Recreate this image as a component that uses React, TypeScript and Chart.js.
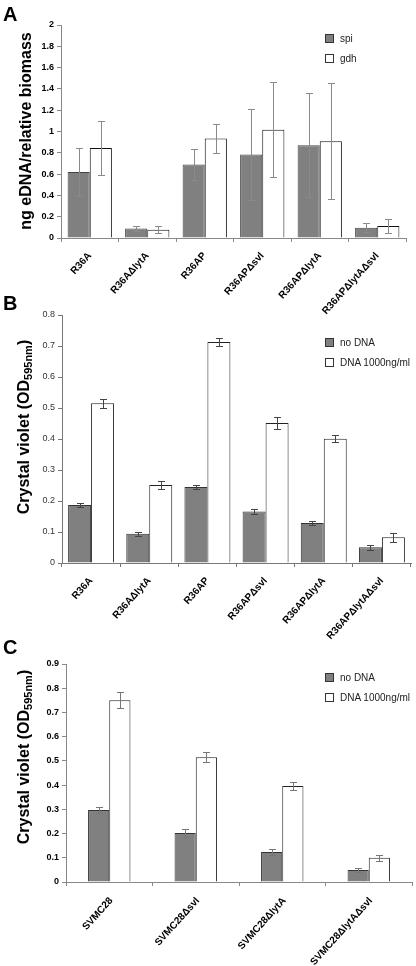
import React, { useEffect, useRef } from "react";
import { Chart, registerables } from "chart.js";
Chart.register(...registerables);

const FONT = "'Liberation Sans', Arial, Helvetica, sans-serif";

// Panel A data
const categoriesA = ["R36A", "R36AΔlytA", "R36AP", "R36APΔsvl", "R36APΔlytA", "R36APΔlytAΔsvl"];
const spiValues = [0.62, 0.09, 0.69, 0.785, 0.872, 0.097];
const spiErrors = [0.225, 0.02, 0.145, 0.43, 0.485, 0.044];
const gdhValues = [0.844, 0.078, 0.934, 1.016, 0.909, 0.1125];
const gdhErrors = [0.255, 0.032, 0.14, 0.445, 0.545, 0.07];

// Panel B data
const categoriesB = ["R36A", "R36AΔlytA", "R36AP", "R36APΔsvl", "R36APΔlytA", "R36APΔlytAΔsvl"];
const noDnaB = [0.187, 0.094, 0.2455, 0.166, 0.129, 0.0506];
const noDnaErrB = [0.0065, 0.006, 0.0065, 0.008, 0.0065, 0.0075];
const dnaB = [0.515, 0.252, 0.713, 0.452, 0.4006, 0.083];
const dnaErrB = [0.015, 0.013, 0.0135, 0.02, 0.011, 0.015];

// Panel C data
const categoriesC = ["SVMC28", "SVMC28Δsvl", "SVMC28ΔlytA", "SVMC28ΔlytAΔsvl"];
const noDnaC = [0.297, 0.202, 0.124, 0.0495];
const noDnaErrC = [0.012, 0.017, 0.0135, 0.01];
const dnaC = [0.75, 0.515, 0.396, 0.1];
const dnaErrC = [0.033, 0.021, 0.017, 0.012];

const GREY_FILL = "#808080";

const errorBarPlugin = {
  id: "errorBars",
  afterDatasetsDraw(chart: any) {
    const ctx = chart.ctx;
    const y = chart.scales.y;
    chart.data.datasets.forEach((ds: any, i: number) => {
      const meta = chart.getDatasetMeta(i);
      meta.data.forEach((bar: any, j: number) => {
        const v = ds.data[j];
        const e = ds.errors[j];
        const top = Math.round(y.getPixelForValue(v + e)) + 0.5;
        const bot = Math.round(y.getPixelForValue(v - e)) + 0.5;
        const x = Math.round(bar.x) + 0.5;
        const cap = 3.5;
        ctx.save();
        ctx.strokeStyle = ds.errorColor;
        ctx.lineWidth = 1;
        ctx.beginPath();
        ctx.moveTo(x, top);
        ctx.lineTo(x, bot);
        ctx.moveTo(x - cap, top);
        ctx.lineTo(x + cap, top);
        ctx.moveTo(x - cap, bot);
        ctx.lineTo(x + cap, bot);
        ctx.stroke();
        ctx.restore();
      });
    });
  },
};

type Geo = {
  canvasTop: number;
  canvasH: number;
  plotTop: number;
  plotBottom: number;
  plotLeft: number;
  plotRight: number;
};

type PanelProps = {
  geo: Geo;
  labels: string[];
  series: { label: string; data: number[]; errors: number[]; fill: string; border: string }[];
  yMax: number;
  yStep: number;
  yTickFont: any;
  yTickColor: string;
  xTickFont: any;
  xPad: number;
  xLabelOffset: number;
  errorColor: string;
  catPct: number;
  axisColor: string;
};

function BarPanel(p: PanelProps) {
  const ref = useRef<HTMLCanvasElement>(null);
  useEffect(() => {
    const g = p.geo;
    const chart = new Chart(ref.current as HTMLCanvasElement, {
      type: "bar",
      data: {
        labels: p.labels,
        datasets: p.series.map((s) => ({
          label: s.label,
          data: s.data,
          errors: s.errors,
          errorColor: p.errorColor,
          backgroundColor: s.fill,
          borderColor: s.border,
          borderWidth: 1,
          categoryPercentage: p.catPct,
          barPercentage: 1,
        })) as any,
      },
      options: {
        responsive: false,
        animation: false,
        devicePixelRatio: 1,
        layout: { padding: { top: g.plotTop - g.canvasTop, right: 416 - g.plotRight, left: 0, bottom: 0 } },
        plugins: { legend: { display: false }, tooltip: { enabled: false }, title: { display: false } },
        scales: {
          x: {
            grid: { offset: true, drawOnChartArea: false, drawTicks: true, tickLength: 4, color: p.axisColor },
            border: { color: p.axisColor, width: 1 },
            ticks: {
              autoSkip: false,
              minRotation: 48,
              maxRotation: 48,
              font: p.xTickFont,
              color: "#000",
              padding: p.xPad,
              labelOffset: p.xLabelOffset,
            },
            afterFit: (s: any) => {
              s.height = g.canvasTop + g.canvasH - g.plotBottom;
            },
          },
          y: {
            min: 0,
            max: p.yMax,
            ticks: {
              stepSize: p.yStep,
              font: p.yTickFont,
              color: p.yTickColor,
              padding: 3,
              callback: (v: any) => String(Number(Number(v).toFixed(1))),
            },
            grid: { drawOnChartArea: false, drawTicks: true, tickLength: 4, color: p.axisColor },
            border: { color: p.axisColor, width: 1 },
            afterFit: (s: any) => {
              s.width = g.plotLeft;
            },
          },
        },
      },
      plugins: [errorBarPlugin],
    });
    return () => chart.destroy();
  }, []);
  return (
    <canvas
      ref={ref}
      width={416}
      height={p.geo.canvasH}
      style={{ position: "absolute", left: 0, top: p.geo.canvasTop, width: 416, height: p.geo.canvasH }}
    />
  );
}

function Legend({ top, items }: { top: number; items: { label: string; fill: string }[] }) {
  return (
    <>
      {items.map((it, i) => (
        <div
          key={i}
          style={{
            position: "absolute",
            left: 325,
            top: top + i * 20 - 6,
            height: 12,
            display: "flex",
            alignItems: "center",
            fontFamily: FONT,
            fontSize: 10,
            color: "#222",
            whiteSpace: "nowrap",
          }}
        >
          <span
            style={{
              display: "inline-block",
              width: 7,
              height: 7,
              background: it.fill,
              border: "1px solid #333",
              marginRight: 6,
            }}
          />
          {it.label}
        </div>
      ))}
    </>
  );
}

function YTitle({ cx, cy, children }: { cx: number; cy: number; children: any }) {
  return (
    <div
      style={{
        position: "absolute",
        left: cx,
        top: cy,
        transform: "translate(-50%, -50%) rotate(-90deg)",
        fontFamily: FONT,
        fontWeight: "bold",
        fontSize: 16,
        color: "#000",
        whiteSpace: "nowrap",
        lineHeight: "18px",
      }}
    >
      {children}
    </div>
  );
}

function Letter({ top, text }: { top: number; text: string }) {
  return (
    <div
      style={{
        position: "absolute",
        left: 3,
        top,
        fontFamily: FONT,
        fontWeight: "bold",
        fontSize: 20,
        lineHeight: "20px",
        color: "#000",
      }}
    >
      {text}
    </div>
  );
}

export default function App() {
  const boldTick = { family: FONT, size: 9, weight: "bold" };
  const regTick = { family: FONT, size: 9 };
  const xFont = { family: FONT, size: 10, weight: "bold" };
  const dnaLegend = [
    { label: "no DNA", fill: GREY_FILL },
    { label: "DNA 1000ng/ml", fill: "#fff" },
  ];
  return (
    <div style={{ position: "absolute", left: 0, top: 0, width: 416, height: 966, background: "#fff", overflow: "hidden" }}>
      <BarPanel
        geo={{ canvasTop: 0, canvasH: 315, plotTop: 25, plotBottom: 238, plotLeft: 61, plotRight: 406 }}
        labels={categoriesA}
        series={[
          { label: "spi", data: spiValues, errors: spiErrors, fill: GREY_FILL, border: "#444" },
          { label: "gdh", data: gdhValues, errors: gdhErrors, fill: "#fff", border: "#111" },
        ]}
        yMax={2}
        yStep={0.2}
        yTickFont={boldTick}
        yTickColor="#000"
        xTickFont={xFont}
        xPad={8}
        xLabelOffset={0}
        errorColor="#8a8a8a"
        catPct={0.77}
        axisColor="#888"
      />
      <BarPanel
        geo={{ canvasTop: 300, canvasH: 340, plotTop: 315, plotBottom: 563, plotLeft: 62, plotRight: 411 }}
        labels={categoriesB}
        series={[
          { label: "no DNA", data: noDnaB, errors: noDnaErrB, fill: GREY_FILL, border: "#333" },
          { label: "DNA 1000ng/ml", data: dnaB, errors: dnaErrB, fill: "#fff", border: "#222" },
        ]}
        yMax={0.8}
        yStep={0.1}
        yTickFont={regTick}
        yTickColor="#333"
        xTickFont={xFont}
        xPad={8}
        xLabelOffset={0}
        errorColor="#444"
        catPct={0.79}
        axisColor="#777"
      />
      <BarPanel
        geo={{ canvasTop: 645, canvasH: 321, plotTop: 664, plotBottom: 882, plotLeft: 66, plotRight: 412 }}
        labels={categoriesC}
        series={[
          { label: "no DNA", data: noDnaC, errors: noDnaErrC, fill: GREY_FILL, border: "#333" },
          { label: "DNA 1000ng/ml", data: dnaC, errors: dnaErrC, fill: "#fff", border: "#222" },
        ]}
        yMax={0.9}
        yStep={0.1}
        yTickFont={boldTick}
        yTickColor="#000"
        xTickFont={xFont}
        xPad={9}
        xLabelOffset={2}
        errorColor="#777"
        catPct={0.49}
        axisColor="#888"
      />
      <Letter top={4} text="A" />
      <Letter top={293} text="B" />
      <Letter top={637} text="C" />
      <YTitle cx={26} cy={131}>ng eDNA/relative biomass</YTitle>
      <YTitle cx={24} cy={427}>
        Crystal violet (OD<sub style={{ fontSize: 11, verticalAlign: "-3px", lineHeight: 0 }}>595nm</sub>)
      </YTitle>
      <YTitle cx={24} cy={757}>
        Crystal violet (OD<sub style={{ fontSize: 11, verticalAlign: "-3px", lineHeight: 0 }}>595nm</sub>)
      </YTitle>
      <Legend top={38} items={[{ label: "spi", fill: GREY_FILL }, { label: "gdh", fill: "#fff" }]} />
      <Legend top={342} items={dnaLegend} />
      <Legend top={677} items={dnaLegend} />
    </div>
  );
}
